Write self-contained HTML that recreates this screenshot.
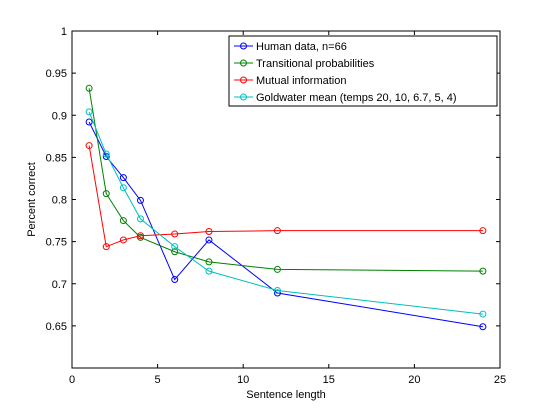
<!DOCTYPE html>
<html><head><meta charset="utf-8"><style>
body{margin:0;background:#fff;}
svg text{font-family:"Liberation Sans",Arial,sans-serif;font-size:11px;fill:#000;}
</style></head><body>
<svg id="chart" width="552" height="414"></svg>
<script>
const xs=[1,2,3,4,6,8,12,24];
const humanVals=[0.892,0.851,0.826,0.799,0.705,0.752,0.689,0.649];
const transVals=[0.932,0.807,0.775,0.755,0.738,0.726,0.717,0.715];
const miVals=[0.864,0.744,0.752,0.757,0.759,0.762,0.763,0.763];
const goldVals=[0.904,0.854,0.814,0.777,0.744,0.715,0.692,0.664];
const xTicks=[0,5,10,15,20,25];
const yTicks=[0.65,0.7,0.75,0.8,0.85,0.9,0.95,1];
const yTickLabels=["0.65","0.7","0.75","0.8","0.85","0.9","0.95","1"];
const seriesNames=["Human data, n=66","Transitional probabilities","Mutual information","Goldwater mean (temps 20, 10, 6.7, 5, 4)"];
const seriesKeys=["human-data","transitional-probabilities","mutual-information","goldwater-mean"];
const seriesColors=["#0000ff","#008000","#ff0000","#00bfbf"];
const seriesData=[humanVals,transVals,miVals,goldVals];

const L=72,R=500,T=31,B=368;
const sx=v=>L+(v-0)/(25-0)*(R-L);
const sy=v=>B-(v-0.6)/(1-0.6)*(B-T);
const svg=document.getElementById('chart');
const NS="http://www.w3.org/2000/svg";
function mk(tag,attrs,parent){const e=document.createElementNS(NS,tag);for(const k in attrs)e.setAttribute(k,attrs[k]);(parent||svg).appendChild(e);return e;}

const axes=mk('rect',{x:L,y:T,width:R-L,height:B-T,fill:'#fff',stroke:'#000','stroke-width':1});



xTicks.forEach(t=>{
  const x=sx(t);
  mk('line',{x1:x,y1:B,x2:x,y2:B-4,stroke:'#000'});
  mk('line',{x1:x,y1:T,x2:x,y2:T+4,stroke:'#000'});
  const tx=mk('text',{x:x,y:B+15,'text-anchor':'middle'});
  tx.textContent=t;
  
  
});
yTicks.forEach((t,i)=>{
  const y=sy(t);
  mk('line',{x1:L,y1:y,x2:L+4,y2:y,stroke:'#000'});
  mk('line',{x1:R,y1:y,x2:R-4,y2:y,stroke:'#000'});
  const tx=mk('text',{x:L-5,y:y+4,'text-anchor':'end'});
  tx.textContent=yTickLabels[i];
  
  
});
const xl=mk('text',{x:(L+R)/2,y:B+30,'text-anchor':'middle'});
xl.textContent="Sentence length";


const yl=mk('text',{x:0,y:0,'text-anchor':'middle',transform:`translate(35,${(T+B)/2}) rotate(-90)`});
yl.textContent="Percent correct";



seriesData.forEach((vals,si)=>{
  const g=mk('g',{});
  
  
  const pts=vals.map((v,i)=>sx(xs[i])+','+sy(v)).join(' ');
  mk('polyline',{points:pts,fill:'none',stroke:seriesColors[si],'stroke-width':1},g);
  vals.forEach((v,i)=>{
    const c=mk('circle',{cx:sx(xs[i]),cy:sy(v),r:3,fill:'none',stroke:seriesColors[si],'stroke-width':1},g);
    
    
  });
});

const lg=mk('g',{});


mk('rect',{x:229,y:36,width:268,height:70,fill:'#fff',stroke:'#000'},lg);
seriesNames.forEach((n,i)=>{
  const y=46+i*17;
  const e=mk('g',{},lg);
  
  
  mk('line',{x1:234,y1:y,x2:253,y2:y,stroke:seriesColors[i]},e);
  mk('circle',{cx:243.5,cy:y,r:3,fill:'none',stroke:seriesColors[i]},e);
  const t=mk('text',{x:256,y:y+4},e);
  t.textContent=n;
});
</script>
</body></html>
